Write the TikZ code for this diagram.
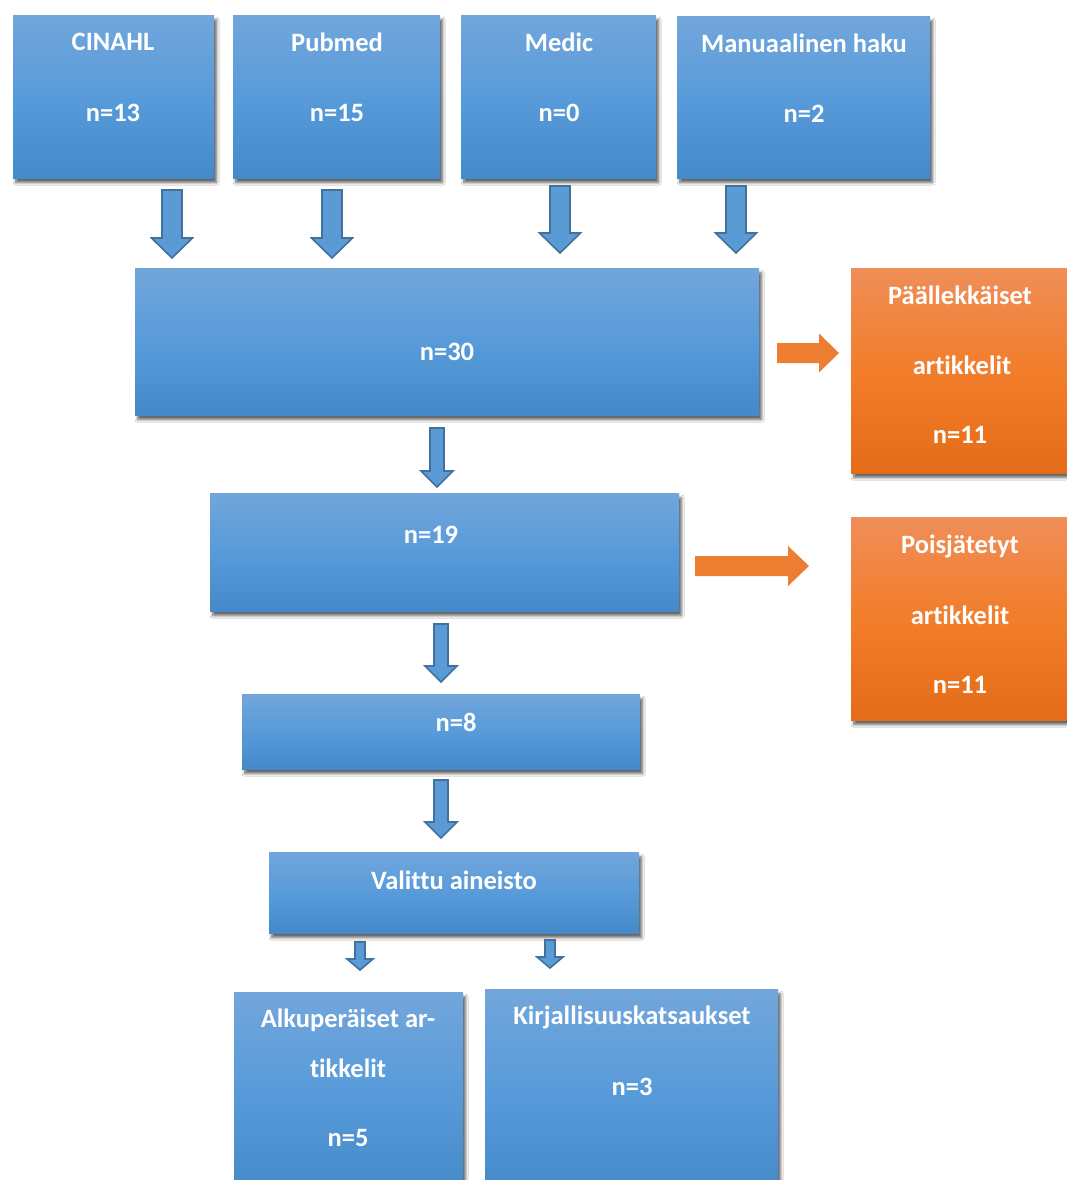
\documentclass[tikz,border=0pt]{standalone}
\usepackage{fontspec}
\setmainfont{Carlito}[Ligatures=NoCommon]
\usetikzlibrary{shadows,shadows.blur}
\definecolor{bT}{RGB}{114,166,219}
\definecolor{bM}{RGB}{88,155,218}
\definecolor{bB}{RGB}{68,137,201}
\definecolor{oT}{RGB}{240,142,88}
\definecolor{oM}{RGB}{242,125,42}
\definecolor{oB}{RGB}{228,108,24}
\definecolor{arrB}{RGB}{91,155,213}
\definecolor{arrBd}{RGB}{65,113,156}
\definecolor{arrO}{RGB}{237,125,49}
\newcommand\dnarr[7]{% name, cx, top, tip, shaft, headw, headlen
  \draw[barrow] ({#2-#5/2},#3) coordinate (#1) -- ({#2+#5/2},#3) -- ({#2+#5/2},{#4-#7}) -- ({#2+#6/2},{#4-#7}) -- (#2,#4) -- ({#2-#6/2},{#4-#7}) -- ({#2-#5/2},{#4-#7}) -- cycle;}
\newcommand\rtarr[7]{% name, cy, left, tip, shaft h, head h, headlen
  \fill[arrO] (#3,{#2-#5/2}) coordinate (#1) -- ({#4-#7},{#2-#5/2}) -- ({#4-#7},{#2-#6/2}) -- (#4,#2) -- ({#4-#7},{#2+#6/2}) -- ({#4-#7},{#2+#5/2}) -- (#3,{#2+#5/2}) -- cycle;}
\tikzset{
  box/.style={anchor=north west, inner sep=0pt, draw=none,
    top color=bT, bottom color=bB, middle color=bM,
    blur shadow={shadow xshift=2.5pt, shadow yshift=-4.5pt, shadow blur steps=8, shadow blur radius=2.5pt, shadow opacity=60}},
  obox/.style={box, top color=oT, bottom color=oB, middle color=oM},
  txt/.style={text=white, font=\fontsize{26.5}{30}\selectfont\bfseries, inner sep=0pt},
  barrow/.style={fill=arrB, draw=arrBd, line width=1.6pt, line join=miter},
}
\begin{document}
\begin{tikzpicture}[x=1pt,y=-1pt]
\useasboundingbox[fill=white] (0,0) rectangle (1066,1180);
% boxes
\node[box, minimum width=201, minimum height=163] (cinahl) at (13,15) {};
\node[box, minimum width=207, minimum height=163] (pubmed) at (233,15) {};
\node[box, minimum width=195, minimum height=163] (medic) at (461,15) {};
\node[box, minimum width=253, minimum height=162] (manual) at (677,16) {};
\node[box, minimum width=624, minimum height=147] (n30) at (135,268) {};
\node[obox, minimum width=220, minimum height=205] (dup) at (851,268) {};
\node[box, minimum width=469, minimum height=118] (n19) at (210,493) {};
\node[obox, minimum width=220, minimum height=203] (excl) at (851,517) {};
\node[box, minimum width=398, minimum height=75] (n8) at (242,694) {};
\node[box, minimum width=370, minimum height=81] (sel) at (269,852) {};
\node[box, minimum width=229, minimum height=200] (orig) at (234,992) {};
\node[box, minimum width=293, minimum height=203] (rev) at (485,989) {};
% texts
\node[txt] (tcinahl) at (113,42) {CINAHL};
\node[txt] (ncinahl) at (113,113) {n=13};
\node[txt] (tpubmed) at (337,42) {Pubmed};
\node[txt] (npubmed) at (337,113) {n=15};
\node[txt] (tmedic) at (559,42) {Medic};
\node[txt] (nmedic) at (559,113) {n=0};
\node[txt] (tmanual) at (804,43) {Manuaalinen haku};
\node[txt] (nmanual) at (804,114) {n=2};
\node[txt] (t30) at (447,352) {n=30};
\node[txt] (tdup1) at (960,295) {Päällekkäiset};
\node[txt] (tdup2) at (962,365) {artikkelit};
\node[txt] (tdup3) at (960,435) {n=11};
\node[txt] (t19) at (431,535) {n=19};
\node[txt] (texc1) at (960,546) {Poisjätetyt};
\node[txt] (texc2) at (960,615) {artikkelit};
\node[txt] (texc3) at (960,685) {n=11};
\node[txt] (t8) at (456,722) {n=8};
\node[txt] (tsel) at (454,880) {Valittu aineisto};
\node[txt] (torig1) at (348,1020) {Alkuperäiset ar-};
\node[txt] (torig2) at (348,1068) {tikkelit};
\node[txt] (torig3) at (348,1138) {n=5};
\node[txt] (trev1) at (632,1017) {Kirjallisuuskatsaukset};
\node[txt] (trev2) at (632,1087) {n=3};
% block arrows
\dnarr{a1}{172}{190}{258}{20}{41}{20}
\dnarr{a2}{332}{190}{258}{20}{41}{20}
\dnarr{a3}{560}{186}{253}{20}{41}{20}
\dnarr{a4}{736}{186}{253}{20}{41}{20}
\dnarr{a5}{437}{428}{487}{14}{32}{16}
\dnarr{a6}{441}{624}{682}{14}{32}{16}
\dnarr{a7}{441}{780}{838}{14}{32}{16}
\dnarr{a8}{360}{942}{970}{10}{26}{11}
\dnarr{a9}{550}{940}{968}{10}{26}{11}
\rtarr{o1}{353}{777}{839}{20}{39}{20}
\rtarr{o2}{566}{695}{809}{20}{40}{21}
\end{tikzpicture}
\end{document}
